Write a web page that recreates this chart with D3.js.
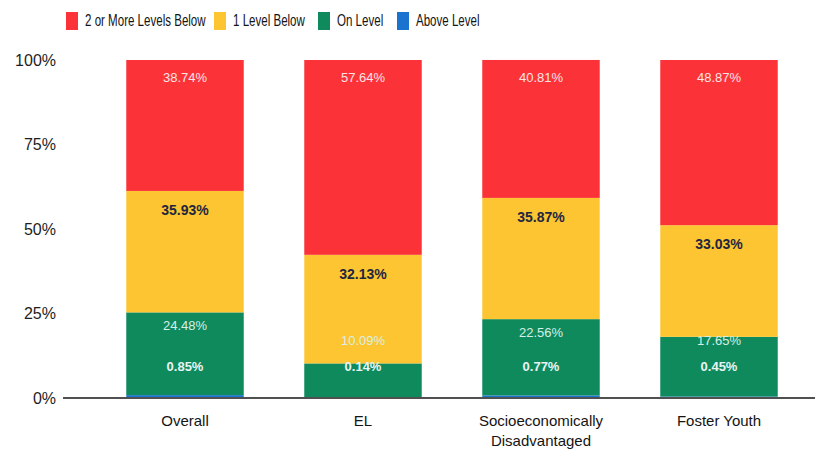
<!DOCTYPE html>
<html>
<head>
<meta charset="utf-8">
<script src="https://cdn.jsdelivr.net/npm/d3@7"></script>
<style>
  body { margin: 0; background: #fff; }
  svg { display: block; font-family: "Liberation Sans", Arial, sans-serif; }
</style>
</head>
<body>
<div id="chart"></div>
<script>
  // Data
  const categories = ["Overall", "EL", "Socioeconomically Disadvantaged", "Foster Youth"];
  const seriesNames = ["2 or More Levels Below", "1 Level Below", "On Level", "Above Level"];
  const twoOrMoreBelow = [38.74, 57.64, 40.81, 48.87];
  const oneBelow = [35.93, 32.13, 35.87, 33.03];
  const onLevel = [24.48, 10.09, 22.56, 17.65];
  const aboveLevel = [0.85, 0.14, 0.77, 0.45];
  const yTicks = [0, 25, 50, 75, 100];

  const colors = ["#fb3338", "#fcc531", "#0f8a5d", "#1a73cf"];
  const labelColors = ["#fde4e4", "#1f2640", "#d8efe6", "#e8f4f4"];

  const width = 822;
  const height = 451;

  const svg = d3.select("#chart")
    .append("svg")
    .attr("width", width)
    .attr("height", height);

  // scales
  const x = d3.scaleBand()
    .domain(categories)
    .range([96, 808])
    .paddingInner(0.34)
    .paddingOuter(0.17);

  const y = d3.scaleLinear()
    .domain([0, 100])
    .range([398, 60]);

  // stack the series (bottom to top: above, on, 1 below, 2+ below)
  const rows = categories.map((c, i) => ({
    category: c,
    "2 or More Levels Below": twoOrMoreBelow[i],
    "1 Level Below": oneBelow[i],
    "On Level": onLevel[i],
    "Above Level": aboveLevel[i]
  }));
  const stackKeys = seriesNames.slice().reverse();
  const stacked = d3.stack().keys(stackKeys)(rows);

  const layers = svg.append("g")
    .selectAll("g")
    .data(stacked)
    .enter()
    .append("g")
    .attr("fill", d => colors[seriesNames.indexOf(d.key)]);

  layers.selectAll("rect")
    .data(d => d)
    .enter()
    .append("rect")
    .attr("x", d => x(d.data.category))
    .attr("y", d => y(d[1]))
    .attr("width", x.bandwidth())
    .attr("height", d => y(d[0]) - y(d[1]));

  // y axis
  const yAxis = svg.append("g")
    .attr("transform", "translate(56,0)")
    .call(d3.axisLeft(y).tickValues(yTicks).tickFormat(d => d + "%").tickSize(0))
    .call(g => g.select(".domain").remove());
  yAxis.selectAll(".tick text")
    .attr("x", 0)
    .attr("font-size", "16px")
    .attr("font-family", "'Liberation Sans', Arial, sans-serif")
    .attr("fill", "#1e1e1e");

  // baseline
  svg.append("line")
    .attr("x1", 63)
    .attr("x2", 815)
    .attr("y1", y(0))
    .attr("y2", y(0))
    .attr("stroke", "#505050")
    .attr("stroke-width", 2);

  // x labels
  const xLabels = svg.append("g");
  categories.forEach(c => {
    const words = c === "Socioeconomically Disadvantaged" ? ["Socioeconomically", "Disadvantaged"] : [c];
    const t = xLabels.append("text")
      .attr("x", x(c) + x.bandwidth() / 2)
      .attr("y", y(0) + 28)
      .attr("text-anchor", "middle")
      .attr("font-size", "15px")
      .attr("fill", "#141414");
    words.forEach((w, i) => {
      t.append("tspan")
        .attr("x", x(c) + x.bandwidth() / 2)
        .attr("dy", i === 0 ? 0 : 20)
        .text(w);
    });
  });

  // value labels
  const valueLabels = svg.append("g").attr("text-anchor", "middle");
  stacked.forEach(layer => {
    const si = seriesNames.indexOf(layer.key);
    layer.forEach(d => {
      let ly;
      if (si === 0) ly = y(d[1]) + 19;
      else if (si === 1) ly = y(d[1]) + 20;
      else if (si === 2) ly = Math.min(y(d[1]) + 14, y(0) - 56);
      else ly = y(0) - 30;
      valueLabels.append("text")
        .attr("x", x(d.data.category) + x.bandwidth() / 2)
        .attr("y", ly)
        .attr("dominant-baseline", "middle")
        .attr("font-size", si === 1 ? "14px" : "13px")
        .attr("font-weight", si === 1 || si === 3 ? "bold" : "normal")
        .attr("fill", labelColors[si])
        .text(d.data[layer.key].toFixed(2) + "%");
    });
  });

  // legend (text squeezed horizontally like the reference)
  const legendX = [66, 214, 318, 397];
  const legend = svg.append("g");
  seriesNames.forEach((s, i) => {
    legend.append("rect")
      .attr("x", legendX[i])
      .attr("y", 12)
      .attr("width", 12)
      .attr("height", 18)
      .attr("fill", colors[i]);
    legend.append("g")
      .attr("transform", `translate(${legendX[i] + 19},22) scale(0.68,1)`)
      .append("text")
      .attr("dominant-baseline", "middle")
      .attr("font-size", "17px")
      .attr("fill", "#141414")
      .text(s);
  });
</script>
</body>
</html>
